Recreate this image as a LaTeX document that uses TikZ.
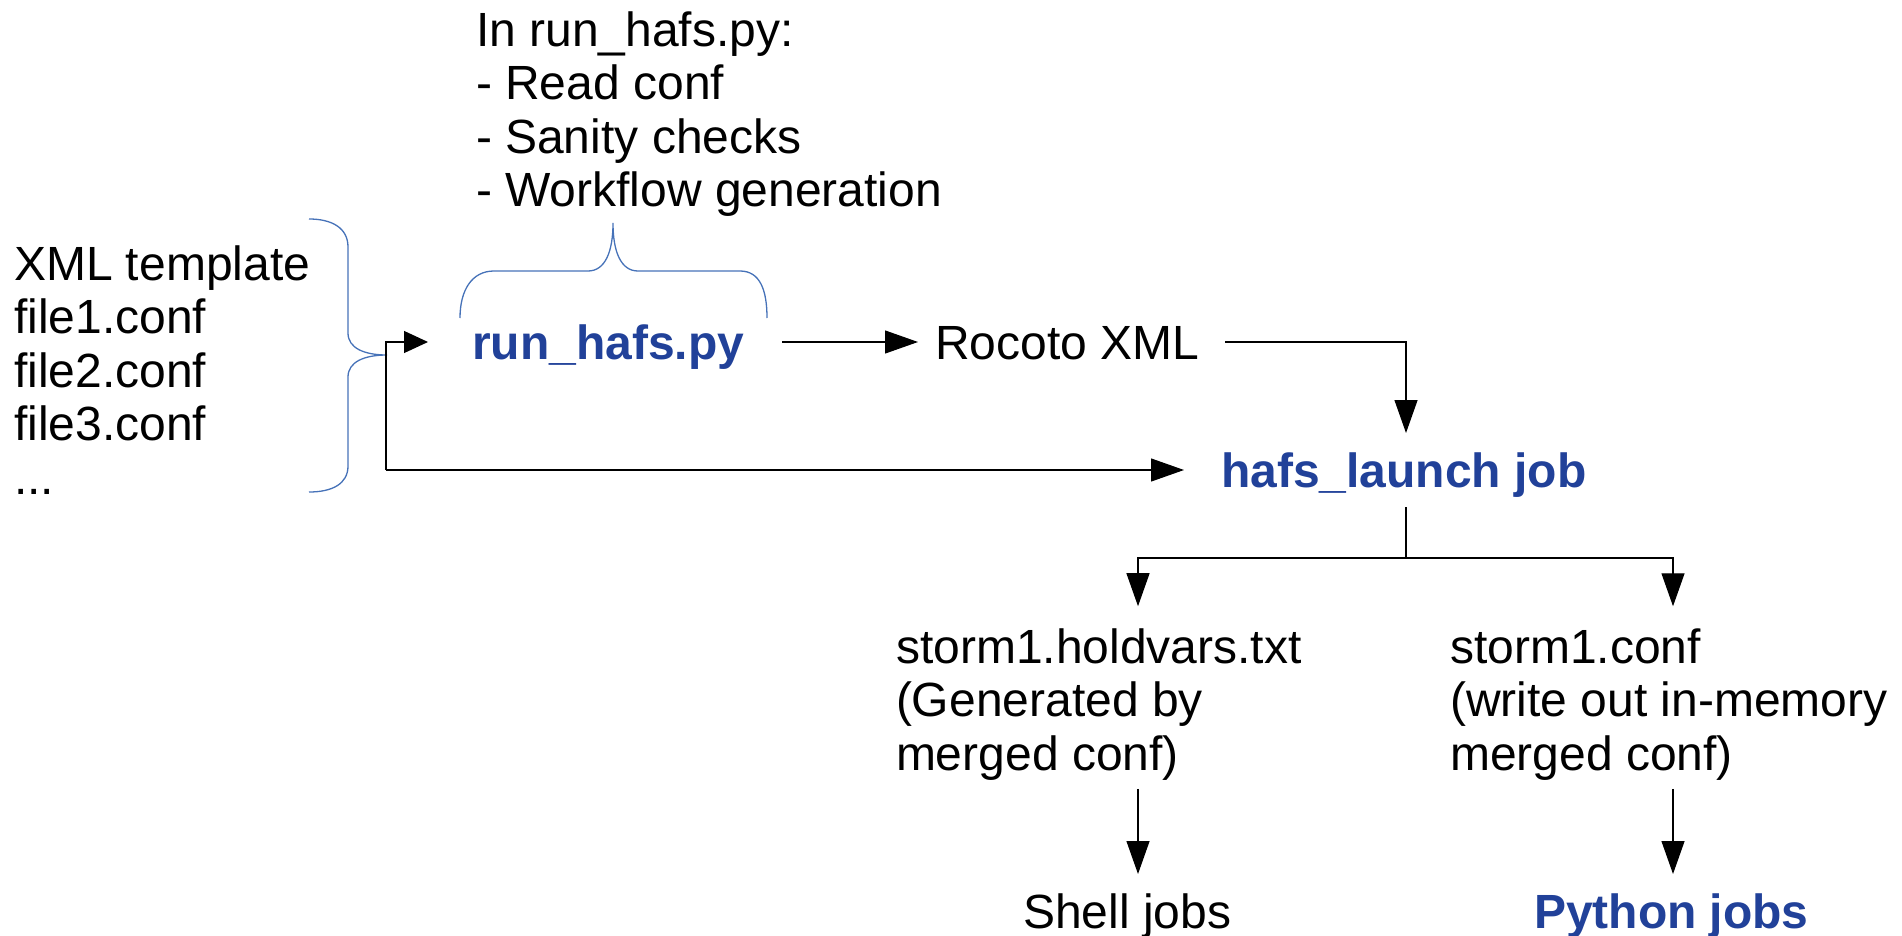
\documentclass[tikz,border=0pt]{standalone}
\usepackage{fontspec}
\setmainfont{Liberation Sans}
\usetikzlibrary{arrows.meta}
\definecolor{jobblue}{RGB}{33,65,153}
\definecolor{bracecol}{RGB}{70,114,184}
\begin{document}
\begin{tikzpicture}[x=1pt,y=-1pt,
  txt/.style={inner sep=0pt, outer sep=0pt, anchor=base west, align=left,
    font=\fontsize{48}{53.5}\selectfont},
  single/.style={txt, text height=34pt, text depth=0pt},
  job/.style={single, font=\fontsize{48}{53.5}\selectfont\bfseries, text=jobblue},
  conn/.style={draw=black, line width=1.2pt},
  arr/.style={conn, -{Triangle[length=33pt,width=23pt]}},
  brace/.style={draw=bracecol, line width=1.3pt}]
\useasboundingbox (0,0) rectangle (1902,936);

% text blocks (multi-line blocks are placed by the baseline of their last line)
\node[txt] (inputs) at (14,494) {XML template\\file1.conf\\file2.conf\\file3.conf\\...};
\node[txt] (steps) at (476,207) {In run\_hafs.py:\\- Read conf\\- Sanity checks\\- Workflow generation};
\node[job] (runhafs) at (472,359) {run\_hafs.py};
\node[single] (rocoto) at (935,359) {Rocoto XML};
\node[job] (launch) at (1221,487) {hafs\_launch job};
\node[txt] (holdvars) at (896,770) {storm1.holdvars.txt\\(Generated by\\merged conf)};
\node[txt] (stormconf) at (1450,770) {storm1.conf\\(write out in-memory\\merged conf)};
\node[single] (shell) at (1023,928) {Shell jobs};
\node[job] (python) at (1534,928) {Python jobs};

% brace grouping the input files
\draw[brace] (309,219) .. controls (332,219) and (348,228) .. (348,247)
  -- (348,333) .. controls (348,348) and (364,355) .. (387,355)
  .. controls (364,355) and (348,362) .. (348,377)
  -- (348,466) .. controls (348,484) and (332,492) .. (309,492);

% brace under the run_hafs.py step list
\draw[brace] (460,318) .. controls (460,290) and (472,271) .. (494,271)
  -- (588,271) .. controls (605,271) and (613,252) .. (613,223)
  .. controls (613,252) and (621,271) .. (638,271)
  -- (740,271) .. controls (760,271) and (767,290) .. (767,318);

% connectors
\coordinate (fork) at (386,470);
\draw[conn, -{Triangle[length=24pt,width=22pt]}] (fork) |- ([xshift=-44pt]runhafs.west);
\draw[arr, shorten >=37pt] (fork) -- (fork -| launch.west);
\draw[arr] ([xshift=38pt]runhafs.east) -- ([xshift=-17pt]rocoto.west);
\draw[arr] ([xshift=26pt]rocoto.east) -| ([xshift=185pt,yshift=20pt]launch.north west);
\draw[conn] ([xshift=185pt,yshift=-20pt]launch.south west) -- ++(0,51) coordinate (split);
\draw[arr] (split) -| ([xshift=242pt,yshift=22pt]holdvars.north west);
\draw[arr] (split) -| ([xshift=223pt,yshift=22pt]stormconf.north west);
\coordinate (h1) at ([xshift=242pt,yshift=-9pt]holdvars.south west);
\coordinate (s1) at ([xshift=223pt,yshift=-9pt]stormconf.south west);
\draw[arr, shorten >=20pt] (h1) -- (h1 |- shell.north);
\draw[arr, shorten >=20pt] (s1) -- (s1 |- python.north);
\end{tikzpicture}
\end{document}
